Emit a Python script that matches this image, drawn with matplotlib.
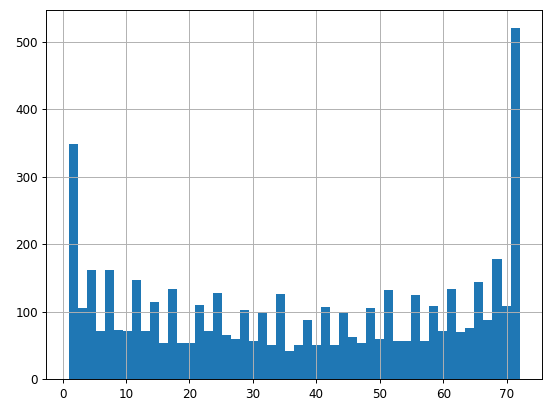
import numpy as np
import matplotlib
matplotlib.use("Agg")
import matplotlib.pyplot as plt

# Histogram values (50 bins from 1 to 72)
bin_start = 1
bin_end = 72
n_bins = 50
counts = [348, 106, 162, 71, 162, 73, 72, 147, 72, 115,
          53, 134, 54, 54, 110, 72, 128, 65, 60, 103,
          57, 99, 51, 126, 41, 51, 88, 51, 107, 51,
          99, 63, 54, 106, 59, 132, 57, 56, 125, 57,
          109, 71, 134, 70, 76, 144, 88, 178, 109, 521]

edges = np.linspace(bin_start, bin_end, n_bins + 1)

fig, ax = plt.subplots(figsize=(6.4, 4.79), dpi=86.25)
fig.subplots_adjust(left=0.084, right=0.982, top=0.975, bottom=0.082)
ax.hist(edges[:-1], bins=edges, weights=counts, color="#1f77b4")
ax.grid(True)
plt.savefig("out.png")
